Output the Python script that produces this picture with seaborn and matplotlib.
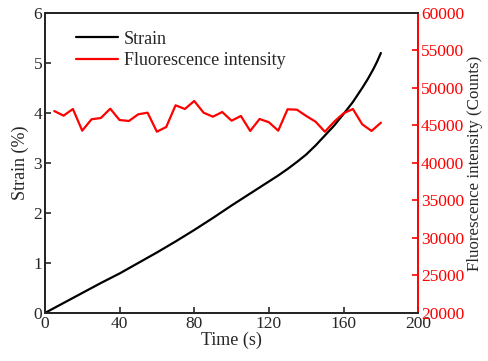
import numpy as np
import pandas as pd
import matplotlib
matplotlib.use("Agg")
import matplotlib.pyplot as plt
import seaborn as sns

# Strain curve (time in s, strain in %)
strain_time = [0, 10, 20, 30, 40, 50, 60, 70, 80, 90, 100, 110, 120, 125, 130, 135, 140, 145,
               150, 155, 160, 165, 170, 173, 176, 178, 180]
strain_val = [0, 0.2, 0.4, 0.6, 0.79, 1.0, 1.21, 1.43, 1.66, 1.9, 2.15, 2.39, 2.63, 2.75,
              2.88, 3.02, 3.17, 3.35, 3.55, 3.75, 3.98, 4.22, 4.5, 4.68, 4.88, 5.03, 5.2]

# Fluorescence intensity (counts), every 5 s
fl_time = list(range(5, 181, 5))
fl_val = [46930, 46310, 47200, 44310, 45830, 46000, 47240, 45730, 45600, 46490,
          46710, 44170, 44800, 47690, 47200, 48270, 46710, 46170, 46800, 45640,
          46270, 44270, 45870, 45430, 44310, 47160, 47110, 46270, 45510, 44170,
          45510, 46630, 47200, 45160, 44270, 45370]

sns.set_style("ticks")
plt.rcParams["font.family"] = ["Liberation Serif", "DejaVu Serif"]
plt.rcParams["xtick.direction"] = "in"
plt.rcParams["ytick.direction"] = "in"

df_s = pd.DataFrame({"Time": strain_time, "Strain": strain_val})
df_f = pd.DataFrame({"Time": fl_time, "Fluorescence": fl_val})

fig, ax = plt.subplots(figsize=(4.88, 3.61), dpi=100)
fig.subplots_adjust(left=0.092, right=0.857, bottom=0.133, top=0.964)

sns.lineplot(data=df_s, x="Time", y="Strain", color="black", linewidth=1.6, ax=ax, label="Strain", legend=False)
ax2 = ax.twinx()
sns.lineplot(data=df_f, x="Time", y="Fluorescence", color="red", linewidth=1.6, ax=ax2,
             label="Fluorescence intensity", legend=False)

ax.set_xlim(0, 200)
ax.set_ylim(0, 6)
ax.set_xticks([0, 40, 80, 120, 160, 200])
ax.set_yticks(range(0, 7))
ax.set_xlabel("Time (s)", fontsize=13, labelpad=0)
ax.set_ylabel("Strain (%)", fontsize=13, labelpad=3)

ax2.set_ylim(20000, 60000)
ax2.set_yticks(range(20000, 60001, 5000))
ax2.set_ylabel("Fluorescence intensity (Counts)", fontsize=12.2, labelpad=2)
ax2.tick_params(axis="y", colors="red", labelcolor="red", direction="in", width=1.2, length=4)
ax.tick_params(width=1.2, length=4, labelsize=12.5, pad=2)
ax2.tick_params(labelsize=12.5, pad=2)

for sp in ax.spines.values():
    sp.set_linewidth(1.4)
for name, sp in ax2.spines.items():
    sp.set_linewidth(1.4)
ax2.spines["right"].set_color("red")
ax.spines["right"].set_visible(False)

h1, l1 = ax.get_legend_handles_labels()
h2, l2 = ax2.get_legend_handles_labels()
ax2.legend(h1 + h2, l1 + l2, loc="upper left", frameon=False, handlelength=2.3,
           fontsize=13, bbox_to_anchor=(0.04, 0.995), labelspacing=0.25, handletextpad=0.35)

plt.savefig("out.png", dpi=100)
